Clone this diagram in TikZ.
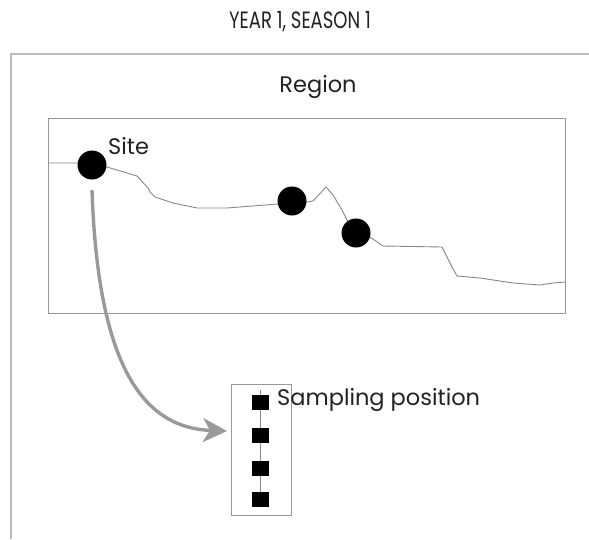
\documentclass[tikz,border=0pt]{standalone}
\usepackage{fontspec}
\setmainfont{Poppins}
\usetikzlibrary{arrows.meta}
\definecolor{framegray}{HTML}{BBBBBB}
\definecolor{boxgray}{HTML}{999999}
\definecolor{linegray}{HTML}{888888}
\definecolor{arrowgray}{HTML}{999999}
\definecolor{txt}{HTML}{222222}
\tikzset{
  lbl/.style={text=txt, font=\fontsize{22.5}{26}\selectfont, inner sep=0pt},
  sitedot/.style={circle, fill=black, minimum size=29pt, inner sep=0pt},
  sq/.style={rectangle, fill=black, minimum width=17pt, minimum height=15pt, inner sep=0pt},
  frameline/.style={draw=framegray, line width=1.3pt},
  boxline/.style={draw=boxgray, line width=1pt},
  profile/.style={draw=linegray, line width=0.9pt, line join=round},
  bigarrow/.style={draw=arrowgray, line width=3.4pt, -{Stealth[length=24pt,width=24pt,inset=7pt]}}
}
\begin{document}
\begin{tikzpicture}[x=1pt,y=-1pt]
\useasboundingbox (0,0) rectangle (589,539);
\fill[white] (0,0) rectangle (589,539);
% outer frame
\draw[frameline] (11,539) -- (11,54) -- (589,54);
% titles
\node[lbl] (title) at (300,22) {\scalebox{0.8}[1.05]{YEAR 1, SEASON 1}};
\node[lbl] (region) at (318,87) {Region};
% region box
\node[boxline, rectangle, minimum width=517pt, minimum height=195pt, inner sep=0pt] (rbox) at (306.5,215.5) {};
% profile line
\draw[profile] (48,163) -- (78,163) -- (92,165) -- (107,167) -- (137,176) -- (148,188) -- (150,192) -- (155,197)
  -- (173,203) -- (197,208) -- (227,208) -- (278,204) -- (292,201) -- (307,202) -- (313,201)
  -- (326,187) -- (333,195) -- (342,210) -- (347,220) -- (356,233) -- (370,237) -- (383,246)
  -- (442,247) -- (447,257) -- (452,267) -- (457,276) -- (480,278) -- (513,283) -- (540,285)
  -- (553,283) -- (565,282);
% dots
\node[sitedot] (s1) at (92,165) {};
\node[sitedot] (s2) at (292,201) {};
\node[sitedot] (s3) at (356,233) {};
\node[lbl, anchor=west] (sitelbl) at (108,146) {Site};
% sampling box
\node[boxline, rectangle, minimum width=60pt, minimum height=131pt, inner sep=0pt] (sbox) at (261,449.5) {};
\coordinate (ltop) at (260,390);
\coordinate (lbot) at (260,499);
\draw[draw=linegray, line width=0.8pt] (ltop) -- (lbot);
\node[sq] (q1) at (260,402) {};
\node[sq] (q2) at (260,435) {};
\node[sq] (q3) at (260,468) {};
\node[sq] (q4) at (260,499) {};
\node[lbl, anchor=west] (samplbl) at (277,400) {Sampling position};
% arrow
\coordinate (astart) at (92,190);
\coordinate (atip) at (227,431);
\draw[bigarrow] (astart) .. controls (98,370) and (145,428) .. (atip);
\end{tikzpicture}
\end{document}
